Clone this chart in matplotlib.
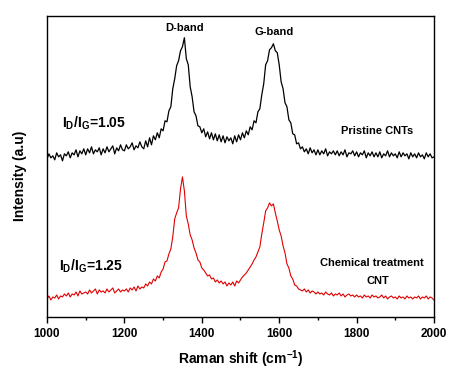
import numpy as np
import matplotlib
matplotlib.use('Agg')
import matplotlib.pyplot as plt

plt.rcParams['font.family'] = ['Liberation Sans', 'DejaVu Sans']
plt.rcParams['mathtext.fontset'] = 'custom'
plt.rcParams['mathtext.rm'] = 'Liberation Sans:bold'
plt.rcParams['mathtext.bf'] = 'Liberation Sans:bold'

# Raman shift grid (cm^-1), one point every 5 cm^-1
shift = np.arange(1000, 2001, 5)

# pristine CNTs (offset upwards)
pristine = [
    158, 163, 159, 161, 157, 164, 160, 162, 156, 163,
    161, 165, 159, 164, 162, 167, 160, 166, 163, 168,
    162, 168, 164, 170, 163, 167, 165, 169, 162, 168,
    164, 170, 165, 168, 171, 163, 169, 166, 172, 167,
    166, 172, 168, 170, 174, 167, 171, 169, 175, 170,
    168, 176, 170, 179, 172, 181, 177, 184, 179, 188,
    186, 196, 195, 206, 210, 228, 238, 251, 256, 266,
    270, 279, 258, 252, 230, 220, 205, 201, 191, 190,
    184, 188, 180, 185, 178, 184, 177, 183, 176, 182,
    175, 181, 174, 180, 176, 179, 173, 181, 175, 182,
    177, 184, 179, 186, 182, 190, 187, 196, 194, 205,
    208, 222, 233, 252, 256, 267, 269, 273, 266, 264,
    252, 235, 228, 214, 210, 197, 194, 183, 182, 173,
    174, 168, 170, 165, 168, 163, 169, 164, 167, 162,
    167, 162, 166, 163, 168, 161, 165, 163, 166, 162,
    166, 161, 165, 162, 167, 160, 164, 163, 166, 161,
    165, 160, 164, 162, 166, 159, 164, 161, 165, 160,
    164, 160, 165, 159, 163, 161, 166, 160, 164, 161,
    163, 159, 165, 160, 164, 161, 163, 158, 164, 160,
    163, 159, 164, 160, 162, 158, 164, 160, 163, 159,
    160,
]

# chemically treated CNT
treated = [
    18, 21, 17, 20, 19, 22, 18, 21, 20, 23,
    21, 24, 20, 23, 22, 25, 21, 26, 23, 24,
    25, 23, 27, 24, 26, 28, 23, 27, 25, 26,
    24, 28, 25, 27, 29, 24, 26, 28, 25, 27,
    26, 28, 25, 29, 27, 30, 26, 31, 28, 30,
    29, 33, 31, 35, 33, 38, 36, 41, 39, 45,
    48, 55, 56, 63, 68, 80, 98, 104, 109, 128,
    140, 126, 101, 93, 82, 77, 69, 64, 57, 55,
    49, 47, 44, 41, 42, 38, 39, 35, 37, 34,
    36, 33, 35, 31, 34, 32, 35, 31, 36, 34,
    37, 40, 42, 44, 47, 50, 53, 57, 60, 65,
    70, 83, 94, 106, 109, 114, 111, 113, 104, 96,
    87, 81, 71, 64, 53, 49, 41, 38, 32, 31,
    28, 27, 26, 28, 25, 27, 24, 26, 25, 23,
    25, 23, 24, 22, 25, 23, 22, 24, 21, 23,
    22, 24, 21, 23, 20, 22, 23, 21, 22, 20,
    22, 20, 21, 19, 22, 20, 21, 19, 22, 20,
    21, 19, 20, 22, 19, 21, 18, 20, 21, 19,
    20, 18, 21, 19, 20, 18, 21, 19, 20, 18,
    20, 19, 21, 18, 20, 19, 21, 18, 20, 19,
    17,
]

xticks = [1000, 1200, 1400, 1600, 1800, 2000]

fig = plt.figure(figsize=(4.6, 3.71), dpi=100)
ax = fig.add_axes([47/460, 1-317/371, (434-47)/460, (317-16)/371])

ax.plot(shift, pristine, color='black', lw=0.9)
ax.plot(shift, treated, color='#e00000', lw=0.8)

ax.set_xlim(1000, 2000)
ax.set_ylim(0, 300.7)
ax.set_xticks(xticks)
ax.set_xticks(np.arange(1100, 2000, 200), minor=True)
ax.set_xticklabels([str(t) for t in xticks], fontweight='bold', fontsize=8.5)
ax.set_yticks([])
ax.tick_params(axis='x', which='major', direction='out', length=4, width=1, pad=4)
ax.tick_params(axis='x', which='minor', direction='out', length=2.5, width=1)
for s in ax.spines.values():
    s.set_linewidth(1)

ax.set_xlabel('Raman shift (cm$^{\\mathbf{-1}}$)', fontsize=10, fontweight='bold', labelpad=6)
ax.set_ylabel('Intensity (a.u)', fontsize=10, fontweight='bold')
ax.yaxis.set_label_coords(-0.052, 0.47)

ax.text(1356, 289, 'D-band', ha='center', va='center', fontsize=8, fontweight='bold')
ax.text(1586, 285, 'G-band', ha='center', va='center', fontsize=8, fontweight='bold')
ax.text(1039, 194, 'I$_{\\mathrm{D}}$/I$_{\\mathrm{G}}$=1.05', ha='left', va='center',
        fontsize=10, fontweight='bold')
ax.text(1031, 51, 'I$_{\\mathrm{D}}$/I$_{\\mathrm{G}}$=1.25', ha='left', va='center',
        fontsize=10, fontweight='bold')
ax.text(1853, 186, 'Pristine CNTs', ha='center', va='center', fontsize=8, fontweight='bold')
ax.text(1840, 54, 'Chemical treatment', ha='center', va='center', fontsize=8, fontweight='bold')
ax.text(1855, 36, 'CNT', ha='center', va='center', fontsize=8, fontweight='bold')

fig.savefig('out.png', dpi=100)
